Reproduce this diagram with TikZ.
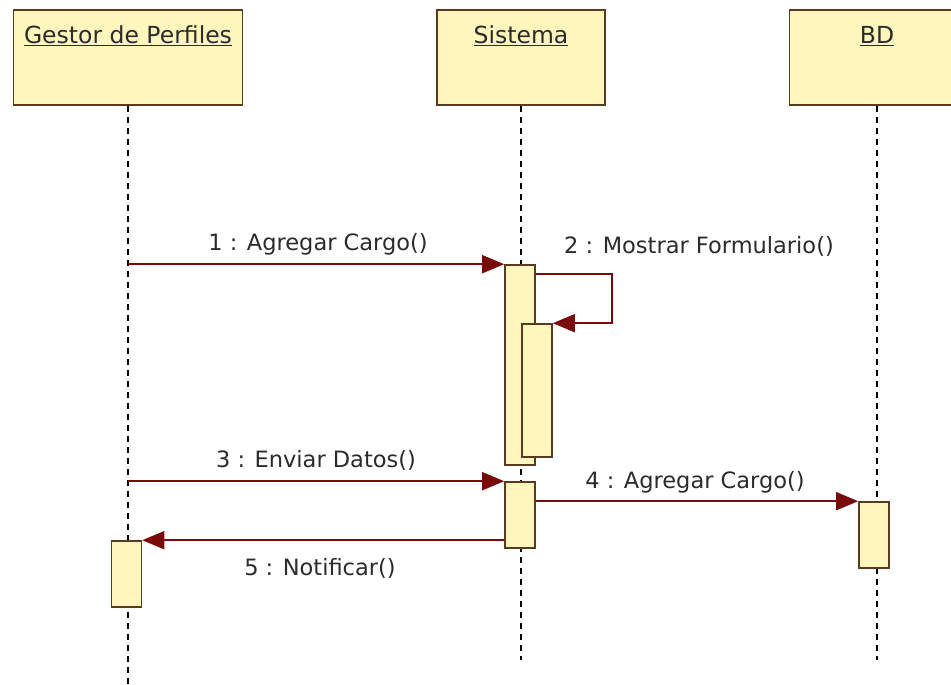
\documentclass[tikz,border=0pt]{standalone}
\usepackage{fontspec}
\setmainfont{DejaVu Sans}
\usetikzlibrary{arrows.meta,positioning,calc}
\definecolor{boxfill}{HTML}{FFF6BE}
\definecolor{boxline}{HTML}{5C3A1E}
\definecolor{msg}{HTML}{7A0A0A}
\definecolor{txt}{HTML}{2B2B2B}
\begin{document}
\begin{tikzpicture}[x=1pt,y=-1pt,
  obj/.style={draw=boxline, line width=1.8pt, fill=boxfill, minimum height=95pt, inner sep=0pt},
  objname/.style={font=\fontsize{23.5}{26}\selectfont, text=txt},
  act/.style={draw=boxline, line width=1.6pt, fill=boxfill, minimum width=30pt, inner sep=0pt},
  life/.style={line width=1.8pt, dash pattern=on 6pt off 5pt},
  call/.style={draw=msg, line width=1.8pt, -{Triangle[length=22pt,width=18pt]}},
  lbl/.style={font=\fontsize{22.5}{26}\selectfont, text=txt},
]
\useasboundingbox (0,0) rectangle (951,685);
% objects
\node[obj, minimum width=229pt] (gestor) at (128,57.5) {};
\node[obj, minimum width=168pt] (sistema) at (521,57.5) {};
\node[obj, minimum width=175pt] (bd) at (877,57.5) {};
\node[objname] (gestorname) at ($(gestor.north)+(0,27)$) {\underline{Gestor de Perfiles}};
\node[objname] (sistemaname) at ($(sistema.north)+(0,27)$) {\underline{Sistema}};
\node[objname] (bdname) at ($(bd.north)+(0,27)$) {\underline{BD}};
% lifelines
\coordinate (gestorend) at (128,685);
\coordinate (sistemaend) at (521,660);
\coordinate (bdend) at (877,660);
\foreach \o in {gestor, sistema, bd}
  \draw[life] (\o.south) -- (\o end);
% activations
\node[act, minimum height=200pt] (a1) at (520,365) {};
\node[act, minimum height=133pt] (a2) at (537,390.5) {};
\node[act, minimum height=66pt] (a3) at (520,515) {};
\node[act, minimum height=66pt] (a4) at (874,535) {};
\node[act, minimum height=66pt] (a5) at (126.5,574) {};
% messages
\draw[call] (a1.north west -| gestor) -- (a1.north west);
\node[lbl] (m1) at (318,244) {1 : Agregar Cargo()};
\draw[call] ($(a1.north east)+(0,10)$) -| ($(a2.north east)+(59,0)$) -- (a2.north east);
\node[lbl] (m2) at (699,246) {2 : Mostrar Formulario()};
\draw[call] (a3.north west -| gestor) -- (a3.north west);
\node[lbl] (m3) at (316,460) {3 : Enviar Datos()};
\draw[call] (a3.east |- a4.north) -- (a4.north west);
\node[lbl] (m4) at (695,482) {4 : Agregar Cargo()};
\draw[call] (a3.west |- a5.north) -- (a5.north east);
\node[lbl] (m5) at (320,568) {5 : Notificar()};
\end{tikzpicture}
\end{document}
